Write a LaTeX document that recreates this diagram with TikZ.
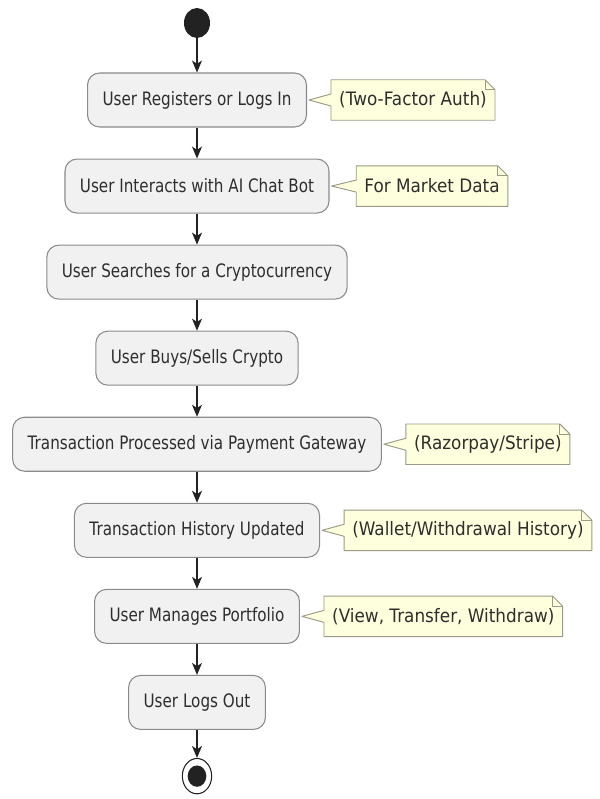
\documentclass[tikz,border=0pt]{standalone}
\usepackage{fontspec}
\setmainfont{DejaVu Sans}[FakeStretch=0.82]
\newfontfamily\notizschrift{DejaVu Sans}[FakeStretch=0.91]
\usetikzlibrary{positioning,shapes.geometric,arrows.meta,calc,backgrounds}

\definecolor{kastenfill}{HTML}{F1F1F1}
\definecolor{kastenrand}{HTML}{8A8A8A}
\definecolor{notizfill}{HTML}{FEFFDD}
\definecolor{notizrand}{HTML}{9A9A86}
\definecolor{schrift}{HTML}{2E2E2E}
\definecolor{pfeilfarbe}{HTML}{222222}

\tikzset{
  schritt/.style={draw=kastenrand, fill=kastenfill, rounded corners=0.36cm, line width=0.9pt,
    minimum height=1.62cm, inner xsep=0.45cm, text=schrift, font=\fontsize{15.8}{18}\selectfont},
  notiz/.style={inner xsep=0.24cm, inner ysep=0pt, minimum height=1.2cm, text=schrift,
    font=\notizschrift\fontsize{15.8}{18}\selectfont},
  notizlinie/.style={draw=notizrand, fill=notizfill, line width=0.8pt, line join=round},
  pfeil/.style={-{Stealth[length=0.36cm,width=0.3cm,inset=0.1cm]}, line width=0.9pt, draw=pfeilfarbe},
  anfangspunkt/.style={ellipse, fill=pfeilfarbe, minimum width=0.78cm, minimum height=0.9cm, inner sep=0pt},
  endring/.style={ellipse, draw=pfeilfarbe, fill=white, line width=0.9pt, minimum width=0.88cm, minimum height=1.06cm, inner sep=0pt},
  endpunkt/.style={ellipse, fill=pfeilfarbe, minimum width=0.56cm, minimum height=0.64cm, inner sep=0pt},
}

\begin{document}
\begin{tikzpicture}[x=0.03cm, y=0.03cm]
\useasboundingbox (0,0) rectangle (600,-799);

% Start
\node[anfangspunkt] (anfang) at (197,-23) {};

% Schritte
\node[schritt] (b1) at (197,-100) {User Registers or Logs In};
\node[schritt, below=0.93cm of b1] (b2) {User Interacts with AI Chat Bot};
\node[schritt, below=0.93cm of b2] (b3) {User Searches for a Cryptocurrency};
\node[schritt, below=0.93cm of b3] (b4) {User Buys/Sells Crypto};
\node[schritt, below=0.93cm of b4] (b5) {Transaction Processed via Payment Gateway};
\node[schritt, below=0.93cm of b5] (b6) {Transaction History Updated};
\node[schritt, below=0.93cm of b6] (b7) {User Manages Portfolio};
\node[schritt, below=0.93cm of b7] (b8) {User Logs Out};

% Ende
\node[endring, below=0.84cm of b8] (stopp) {};
\node[endpunkt] (stopppunkt) at (stopp) {};

% Notizen
\node[notiz, right=0.72cm of b1] (n1) {(Two-Factor Auth)\hspace{0.5cm}};
\node[notiz, right=0.8cm of b2] (n2) {For Market Data\hspace{0.45cm}};
\node[notiz, right=0.72cm of b5] (n5) {(Razorpay/Stripe)\hspace{0.5cm}};
\node[notiz, right=0.72cm of b6] (n6) {(Wallet/Withdrawal History)\hspace{0.45cm}};
\node[notiz, right=0.72cm of b7] (n7) {(View, Transfer, Withdraw)\hspace{0.5cm}};

\begin{scope}[on background layer]
\foreach \n/\b in {n1/b1, n2/b2, n5/b5, n6/b6, n7/b7} {
  \draw[notizlinie] (\n.south west) -- ($(\n.west)+(0,-6)$) -- ($(\b.east)+(2,0)$)
    -- ($(\n.west)+(0,6)$) -- (\n.north west) -- ($(\n.north east)+(-10,0)$)
    -- ($(\n.north east)+(0,-10)$) -- (\n.south east) -- cycle;
  \draw[notizlinie, fill=none] ($(\n.north east)+(-10,0)$) |- ($(\n.north east)+(0,-10)$); % Eselsohr
}
\end{scope}

% Pfeile
\foreach \a/\b in {anfang/b1, b1/b2, b2/b3, b3/b4, b4/b5, b5/b6, b6/b7, b7/b8, b8/stopp}
  \draw[pfeil] (\a) -- (\b);
\end{tikzpicture}
\end{document}
